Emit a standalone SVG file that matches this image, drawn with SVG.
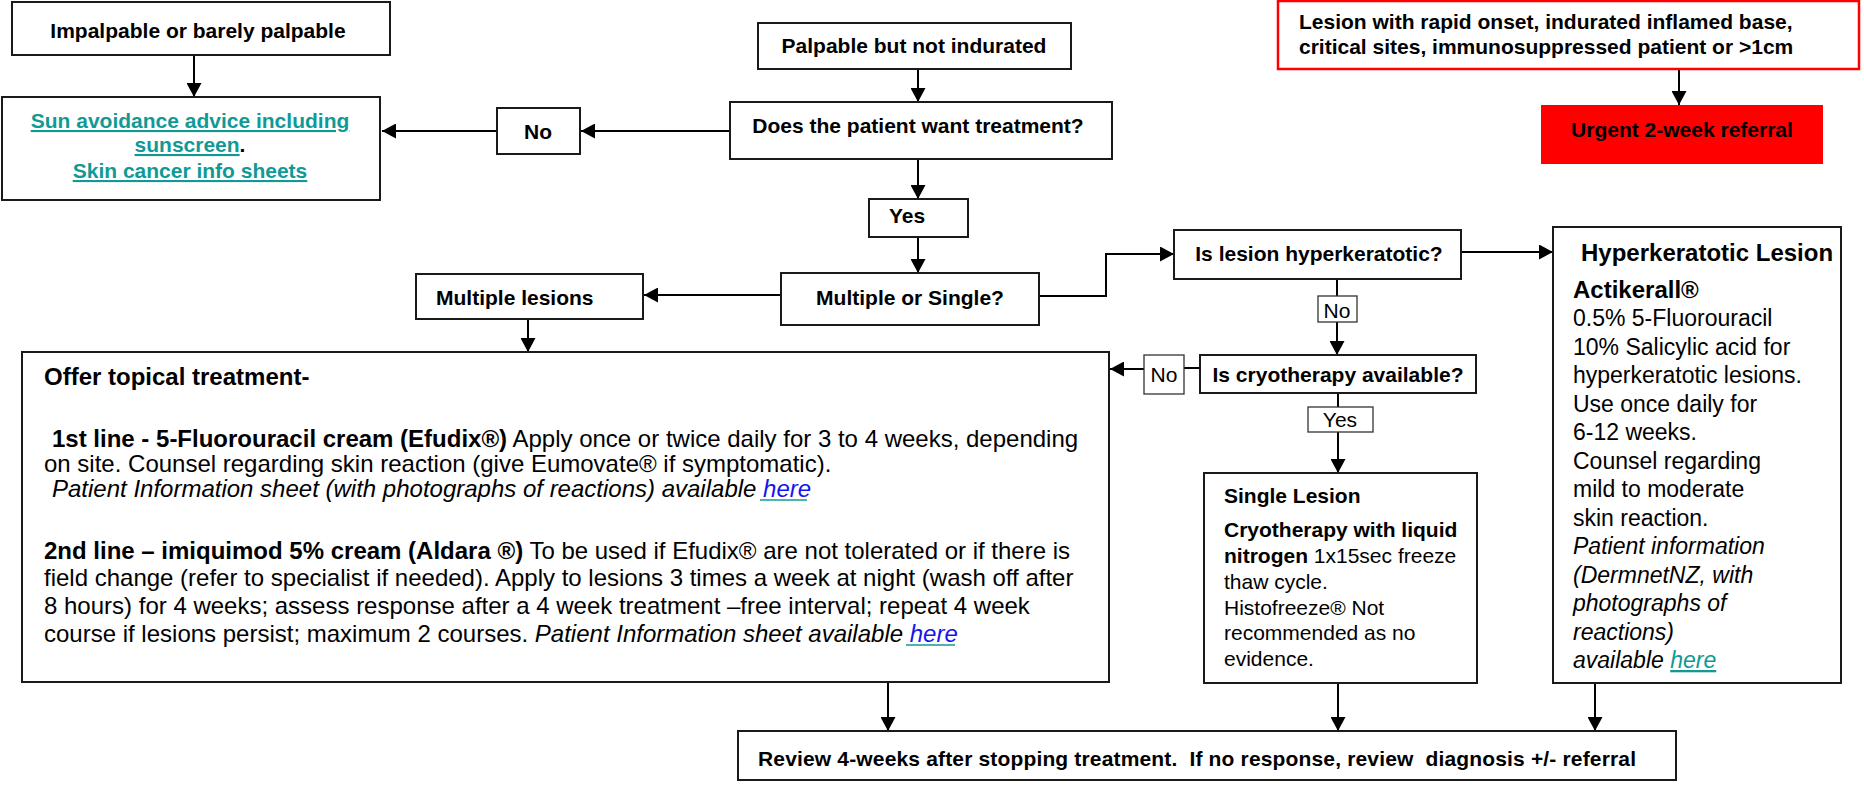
<svg xmlns="http://www.w3.org/2000/svg" width="1864" height="787" viewBox="0 0 1864 787">
<style>
text{font-family:"Liberation Sans",Arial,sans-serif;fill:#000}
.b{font-weight:bold;font-size:21px}
.r{font-size:21px}
.box{fill:#fff;stroke:#1a1a1a;stroke-width:2}
.lbl{fill:#fff;stroke:#333;stroke-width:1.3}
.ln{fill:none;stroke:#000;stroke-width:2}
.teal{fill:#119a95}
.link{fill:#1515ee}
.u{stroke:#119a95;stroke-width:1.6}
.t24{font-size:24px}
.t23{font-size:23px}
</style>
<defs>
<marker id="ah" markerWidth="15" markerHeight="15" refX="14" refY="7.5" orient="auto" markerUnits="userSpaceOnUse">
<path d="M0,0 L14,7.5 L0,15 z" fill="#000"/>
</marker>
</defs>

<g id="connectors">
<line class="ln" x1="194" y1="55" x2="194" y2="97" marker-end="url(#ah)"/>
<line class="ln" x1="497" y1="131" x2="382" y2="131" marker-end="url(#ah)"/>
<line class="ln" x1="730" y1="131" x2="581" y2="131" marker-end="url(#ah)"/>
<line class="ln" x1="918" y1="69" x2="918" y2="102" marker-end="url(#ah)"/>
<line class="ln" x1="918" y1="159" x2="918" y2="199" marker-end="url(#ah)"/>
<line class="ln" x1="918" y1="237" x2="918" y2="273" marker-end="url(#ah)"/>
<line class="ln" x1="781" y1="295" x2="644" y2="295" marker-end="url(#ah)"/>
<polyline class="ln" points="1039,296 1106,296 1106,254 1174,254" marker-end="url(#ah)"/>
<line class="ln" x1="528" y1="319" x2="528" y2="352" marker-end="url(#ah)"/>
<line class="ln" x1="1461" y1="252" x2="1553" y2="252" marker-end="url(#ah)"/>
<line class="ln" x1="1337" y1="279" x2="1337" y2="296"/>
<line class="ln" x1="1337" y1="322" x2="1337" y2="355" marker-end="url(#ah)"/>
<line class="ln" x1="1200" y1="368" x2="1184" y2="368" stroke-width="1.3"/>
<line class="ln" x1="1144" y1="369" x2="1110" y2="369" marker-end="url(#ah)"/>
<line class="ln" x1="1338" y1="393" x2="1338" y2="407"/>
<line class="ln" x1="1338" y1="432" x2="1338" y2="473" marker-end="url(#ah)"/>
<line class="ln" x1="1679" y1="69" x2="1679" y2="105" marker-end="url(#ah)"/>
<line class="ln" x1="888" y1="683" x2="888" y2="731" marker-end="url(#ah)"/>
<line class="ln" x1="1338" y1="683" x2="1338" y2="731" marker-end="url(#ah)"/>
<line class="ln" x1="1595" y1="683" x2="1595" y2="731" marker-end="url(#ah)"/>
</g>

<g id="impalpable">
<rect class="box" x="12" y="2" width="378" height="53"/>
<text class="b" x="198" y="38" text-anchor="middle">Impalpable or barely palpable</text>
</g>

<g id="sun-advice">
<rect class="box" x="2" y="97" width="378" height="103"/>
<text class="b teal" x="190" y="128" text-anchor="middle" text-decoration="underline">Sun avoidance advice including</text>
<text class="b" x="190" y="152" text-anchor="middle"><tspan class="teal" text-decoration="underline">sunscreen</tspan>.</text>
<text class="b teal" x="190" y="178" text-anchor="middle" text-decoration="underline">Skin cancer info sheets</text>
</g>

<g id="no-main">
<rect class="box" x="497" y="108" width="83" height="46"/>
<text class="b" x="538" y="139" text-anchor="middle">No</text>
</g>

<g id="palpable">
<rect class="box" x="758" y="23" width="313" height="46"/>
<text class="b" x="914" y="53" text-anchor="middle">Palpable but not indurated</text>
</g>

<g id="want-treatment">
<rect class="box" x="730" y="102" width="382" height="57"/>
<text class="b" x="918" y="133" text-anchor="middle">Does the patient want treatment?</text>
</g>

<g id="yes-main">
<rect class="box" x="869" y="199" width="99" height="38"/>
<text class="b" x="889" y="223">Yes</text>
</g>

<g id="multiple-or-single">
<rect class="box" x="781" y="273" width="258" height="52"/>
<text class="b" x="910" y="305" text-anchor="middle">Multiple or Single?</text>
</g>

<g id="multiple-lesions">
<rect class="box" x="416" y="274" width="227" height="45"/>
<text class="b" x="436" y="305">Multiple lesions</text>
</g>

<g id="topical-treatment">
<rect class="box" x="22" y="352" width="1087" height="330"/>
<text class="b t24" x="44" y="385">Offer topical treatment-</text>
<text class="t24" x="52" y="447"><tspan font-weight="bold">1st line - 5-Fluorouracil cream (Efudix®)</tspan> Apply once or twice daily for 3 to 4 weeks, depending</text>
<text class="t24" x="44" y="472">on site. Counsel regarding skin reaction (give Eumovate® if symptomatic).</text>
<text class="t24" x="52" y="497"><tspan font-style="italic">Patient Information sheet (with photographs of reactions) available </tspan><tspan class="link" font-style="italic">here</tspan></text>
<line class="u" x1="760" y1="500" x2="807" y2="500"/>
<text class="t24" x="44" y="559"><tspan font-weight="bold">2nd line – imiquimod 5% cream (Aldara ®)</tspan> To be used if Efudix® are not tolerated or if there is</text>
<text class="t24" x="44" y="586">field change (refer to specialist if needed). Apply to lesions 3 times a week at night (wash off after</text>
<text class="t24" x="44" y="614">8 hours) for 4 weeks; assess response after a 4 week treatment –free interval; repeat 4 week</text>
<text class="t24" x="44" y="642">course if lesions persist; maximum 2 courses. <tspan font-style="italic">Patient Information sheet available </tspan><tspan class="link" font-style="italic">here</tspan></text>
<line class="u" x1="906" y1="645" x2="955" y2="645"/>
</g>

<g id="hyperkeratotic-question">
<rect class="box" x="1174" y="230" width="287" height="49"/>
<text class="b" x="1319" y="261" text-anchor="middle">Is lesion hyperkeratotic?</text>
</g>

<g id="no-hyper">
<rect class="lbl" x="1318" y="296" width="39" height="26"/>
<text class="r" x="1337" y="318" text-anchor="middle">No</text>
</g>

<g id="cryo-question">
<rect class="box" x="1200" y="355" width="276" height="38"/>
<text class="b" x="1338" y="382" text-anchor="middle">Is cryotherapy available?</text>
</g>

<g id="no-cryo">
<rect class="lbl" x="1144" y="355" width="40" height="39"/>
<text class="r" x="1164" y="382" text-anchor="middle">No</text>
</g>

<g id="yes-cryo">
<rect class="lbl" x="1308" y="407" width="65" height="25"/>
<text class="r" x="1340" y="427" text-anchor="middle">Yes</text>
</g>

<g id="single-lesion">
<rect class="box" x="1204" y="473" width="273" height="210"/>
<text class="b" x="1224" y="503">Single Lesion</text>
<text class="b" x="1224" y="537">Cryotherapy with liquid</text>
<text class="r" x="1224" y="563"><tspan font-weight="bold">nitrogen</tspan> 1x15sec freeze</text>
<text class="r" x="1224" y="589">thaw cycle.</text>
<text class="r" x="1224" y="615">Histofreeze® Not</text>
<text class="r" x="1224" y="640">recommended as no</text>
<text class="r" x="1224" y="666">evidence.</text>
</g>

<g id="hyperkeratotic-lesion">
<rect class="box" x="1553" y="227" width="288" height="456"/>
<text class="b t24" x="1581" y="261">Hyperkeratotic Lesion</text>
<text class="b t24" x="1573" y="298">Actikerall®</text>
<text class="t23" x="1573" y="326">0.5% 5-Fluorouracil</text>
<text class="t23" x="1573" y="355">10% Salicylic acid for</text>
<text class="t23" x="1573" y="383">hyperkeratotic lesions.</text>
<text class="t23" x="1573" y="412">Use once daily for</text>
<text class="t23" x="1573" y="440">6-12 weeks.</text>
<text class="t23" x="1573" y="469">Counsel regarding</text>
<text class="t23" x="1573" y="497">mild to moderate</text>
<text class="t23" x="1573" y="526">skin reaction.</text>
<text class="t23" x="1573" y="554" font-style="italic">Patient information</text>
<text class="t23" x="1573" y="583" font-style="italic">(DermnetNZ, with</text>
<text class="t23" x="1573" y="611" font-style="italic">photographs of</text>
<text class="t23" x="1573" y="640" font-style="italic">reactions)</text>
<text class="t23" x="1573" y="668" font-style="italic">available <tspan class="teal" text-decoration="underline">here</tspan></text>
</g>

<g id="review">
<rect class="box" x="738" y="731" width="938" height="49"/>
<text class="b" x="758" y="766" textLength="878" style="white-space:pre">Review 4-weeks after stopping treatment.  If no response, review  diagnosis +/- referral</text>
</g>

<g id="rapid-onset">
<rect x="1278" y="1" width="581" height="68" fill="#fff" stroke="#f00" stroke-width="2.5"/>
<text class="b" x="1299" y="29">Lesion with rapid onset, indurated inflamed base,</text>
<text class="b" x="1299" y="54">critical sites, immunosuppressed patient or &gt;1cm</text>
</g>

<g id="urgent-referral">
<rect x="1541" y="105" width="282" height="59" fill="#f00"/>
<text class="b" x="1682" y="137" text-anchor="middle">Urgent 2-week referral</text>
</g>
</svg>
